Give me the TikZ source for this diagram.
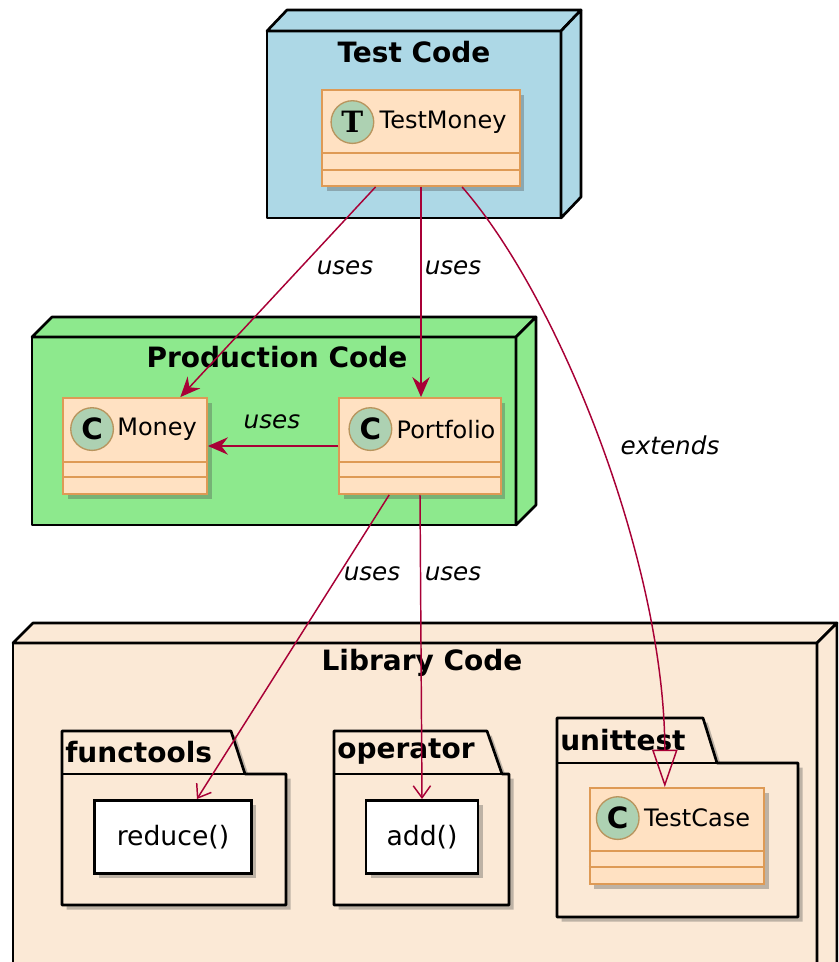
\documentclass[tikz,border=0pt]{standalone}
\usepackage{fontspec}
\setmainfont{DejaVu Sans}
\newfontfamily\circlefont{DejaVu Serif}
\usetikzlibrary{arrows.meta,shadows,calc}
\definecolor{testblue}{HTML}{ADD8E6}
\definecolor{prodgreen}{HTML}{8DE98D}
\definecolor{libfill}{HTML}{FBE9D6}
\definecolor{classfill}{HTML}{FFE1C2}
\definecolor{classedge}{HTML}{DE9A55}
\definecolor{circfill}{HTML}{ADD1B2}
\definecolor{circedge}{HTML}{B8955E}
\definecolor{arrowred}{HTML}{A80036}
\begin{document}
\begin{tikzpicture}[x=0.75pt,y=0.75pt,yscale=-1,xscale=1,
  frame/.style={draw=black, line width=2pt, line join=round},
  boxshadow/.style={drop shadow={shadow xshift=3.5pt, shadow yshift=-3.5pt, opacity=0.35, fill=black!70}},
  umlclass/.style={draw=classedge, fill=classfill, line width=1.4pt, rectangle, inner sep=0pt, boxshadow},
  classline/.style={draw=classedge, line width=1.4pt},
  circ/.style={circle, draw=circedge, fill=circfill, line width=1pt, minimum size=32pt, inner sep=0pt, font=\fontsize{22pt}{24pt}\selectfont\bfseries},
  classname/.style={anchor=west, inner sep=0pt, font=\fontsize{18pt}{21pt}\selectfont},
  plainbox/.style={draw=black, fill=white, line width=2pt, rectangle, inner sep=0pt, boxshadow, font=\fontsize{20pt}{24pt}\selectfont},
  title/.style={font=\fontsize{21pt}{25pt}\selectfont\bfseries},
  pkgname/.style={anchor=west, inner sep=0pt, font=\fontsize{21pt}{25pt}\selectfont\bfseries},
  lbl/.style={inner sep=0pt, font=\fontsize{18.5pt}{22pt}\selectfont\itshape},
  uses/.style={draw=arrowred, line width=1.1pt, -{Stealth[length=15pt,width=13pt,inset=5pt]}},
  usesopen/.style={draw=arrowred, line width=1.1pt, -{Straight Barb[length=9pt,width=13pt]}},
  extends/.style={draw=arrowred, line width=1.1pt, -{Triangle[open,length=28pt,width=19pt]}}]
\useasboundingbox (0,0) rectangle (838,962);
\clip (0,0) rectangle (838,962);

%Shape: Node Test Code
\draw[frame, fill=testblue] (267,31) rectangle (561,218);
\draw[frame, fill=testblue] (267,31) -- (287,10) -- (581,10) -- (561,31) -- cycle;
\draw[frame, fill=testblue] (561,31) -- (581,10) -- (581,197) -- (561,218) -- cycle;
%Shape: Node Production Code
\draw[frame, fill=prodgreen] (32,337) rectangle (516,525);
\draw[frame, fill=prodgreen] (32,337) -- (52,317) -- (536,317) -- (516,337) -- cycle;
\draw[frame, fill=prodgreen] (516,337) -- (536,317) -- (536,505) -- (516,525) -- cycle;
%Shape: Node Library Code
\draw[frame, fill=libfill] (13,643) rectangle (817,990);
\draw[frame, fill=libfill] (13,643) -- (33,623) -- (837,623) -- (817,643) -- cycle;
\draw[frame, fill=libfill] (817,643) -- (837,623) -- (837,970) -- (817,990) -- cycle;

%Shape: Package functools
\draw[frame, fill=libfill, boxshadow] (62,731) -- (231,731) -- (245,774) -- (286,774) -- (286,905) -- (62,905) -- cycle;
\draw[frame] (62,774) -- (245,774);
%Shape: Package operator
\draw[frame, fill=libfill, boxshadow] (334,731) -- (487,731) -- (502,774) -- (509,774) -- (509,905) -- (334,905) -- cycle;
\draw[frame] (334,774) -- (502,774);
%Shape: Package unittest
\draw[frame, fill=libfill, boxshadow] (557,718) -- (703,718) -- (717,763) -- (798,763) -- (798,917) -- (557,917) -- cycle;
\draw[frame] (557,763) -- (717,763);

% Text Node
\node[title] (testtitle) at (414,52) {Test Code};
\node[title] (prodtitle) at (277,357) {Production Code};
\node[title] (libtitle) at (422,663) {Library Code};
\node[pkgname] (functoolsname) at (65,752) {functools};
\node[pkgname] (operatorname) at (337,752) {operator};
\node[pkgname] (unittestname) at (560,740) {unittest};

%Class TestMoney
\node[umlclass, minimum width=148pt, minimum height=72pt] (testmoney) at (421,138) {};
\draw[classline] ($(testmoney.north west)+(0,64)$) -- ($(testmoney.north east)+(0,64)$);
\draw[classline] ($(testmoney.north west)+(0,81)$) -- ($(testmoney.north east)+(0,81)$);
\node[circ] (testmoneyC) at ($(testmoney.north west)+(31,33)$) {\circlefont\bfseries T};
\node[classname] (testmoneyname) at ($(testmoney.north west)+(58,33)$) {TestMoney};
%Class Money
\node[umlclass, minimum width=108pt, minimum height=72pt] (money) at (135,446) {};
\draw[classline] ($(money.north west)+(0,65)$) -- ($(money.north east)+(0,65)$);
\draw[classline] ($(money.north west)+(0,80)$) -- ($(money.north east)+(0,80)$);
\node[circ] (moneyC) at ($(money.north west)+(30,32)$) {C};
\node[classname] (moneyname) at ($(money.north west)+(55,32)$) {Money};
%Class Portfolio
\node[umlclass, minimum width=121pt, minimum height=72pt] (portfolio) at (420,446) {};
\draw[classline] ($(portfolio.north west)+(0,65)$) -- ($(portfolio.north east)+(0,65)$);
\draw[classline] ($(portfolio.north west)+(0,80)$) -- ($(portfolio.north east)+(0,80)$);
\node[circ] (portfolioC) at ($(portfolio.north west)+(32,32)$) {C};
\node[classname] (portfolioname) at ($(portfolio.north west)+(58,32)$) {Portfolio};
%Class TestCase
\node[umlclass, minimum width=131pt, minimum height=72pt] (testcase) at (677,836) {};
\draw[classline] ($(testcase.north west)+(0,64)$) -- ($(testcase.north east)+(0,64)$);
\draw[classline] ($(testcase.north west)+(0,80)$) -- ($(testcase.north east)+(0,80)$);
\node[circ] (testcaseC) at ($(testcase.north west)+(29,31)$) {C};
\node[classname] (testcasename) at ($(testcase.north west)+(55,31)$) {TestCase};

%Rectangle reduce() and add()
\node[plainbox, minimum width=118pt, minimum height=55pt] (reduce) at (173,837) {reduce()};
\node[plainbox, minimum width=84pt, minimum height=55pt] (add) at (422,837) {add()};

%Arrows
\draw[uses] (testmoney) -- (money);
\draw[uses] (testmoney) -- (testmoney |- portfolio.north);
\draw[uses] (portfolio) -- (money);
\draw[usesopen] (portfolio) -- (reduce);
\draw[usesopen] (portfolio.south) -- (add.north);
\draw[extends] (testmoney.-50) .. controls +(100,115) and +(0,-220) .. (testcase.104);

% Text Node
\node[lbl] (lbl1) at (345,268) {uses};
\node[lbl] (lbl2) at (453,268) {uses};
\node[lbl] (lbl3) at (272,422) {uses};
\node[lbl] (lbl4) at (372,574) {uses};
\node[lbl] (lbl5) at (453,574) {uses};
\node[lbl] (lbl6) at (670,445) {extends};

\end{tikzpicture}
\end{document}
